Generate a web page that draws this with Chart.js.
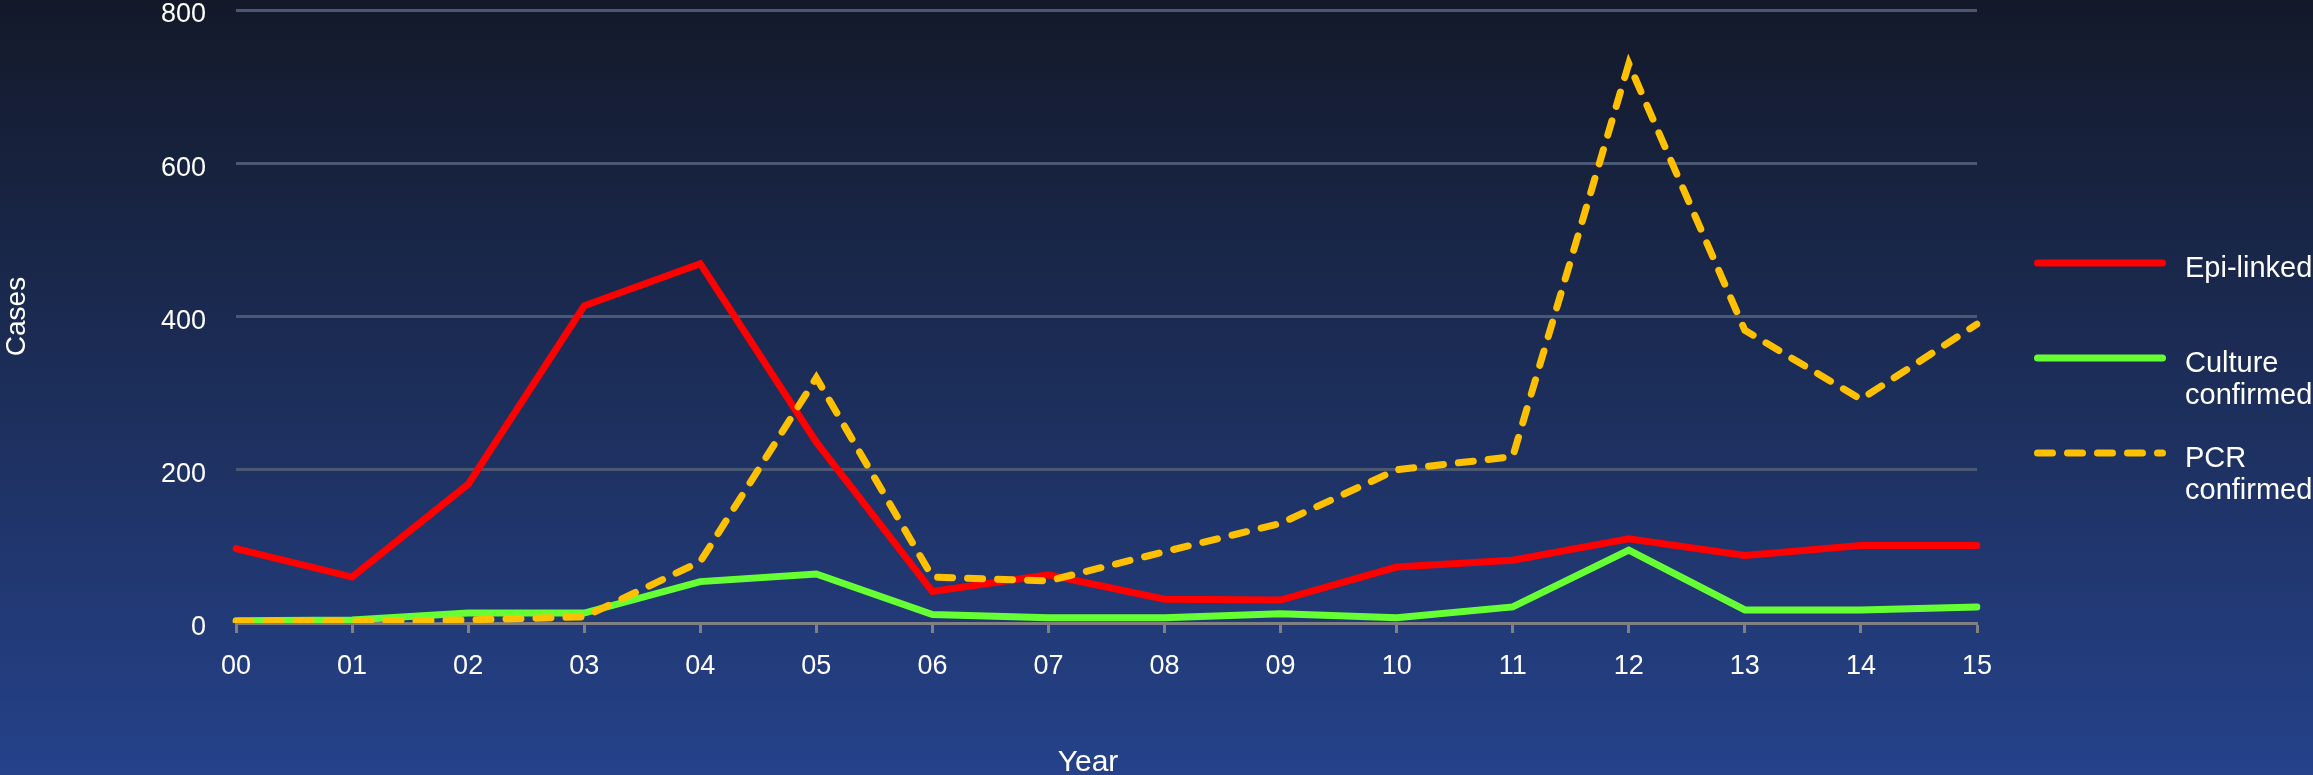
<!DOCTYPE html>
<html>
<head>
<meta charset="utf-8">
<title>Cases by year</title>
<script src="https://cdn.jsdelivr.net/npm/chart.js@4.4.1/dist/chart.umd.min.js"></script>
<style>
  html, body { margin: 0; padding: 0; background: #1c2d5a; overflow: hidden; }
  canvas { display: block; }
</style>
</head>
<body>
<canvas id="casesChart" width="2313" height="775"></canvas>
<script>
// values
const years = ['00', '01', '02', '03', '04', '05', '06', '07', '08', '09', '10', '11', '12', '13', '14', '15'];
const epiLinked = [97, 60, 181, 414, 469, 236, 41, 63, 31, 30, 73, 82, 110, 88, 101, 101];
const cultureConfirmed = [3, 4, 13, 13, 54, 64, 11, 7, 7, 12, 7, 21, 95, 17, 17, 21];
const pcrConfirmed = [2, 2, 4, 8, 80, 320, 60, 55, 93, 130, 200, 217, 730, 382, 292, 390];
const yTicks = [0, 200, 400, 600, 800];
const seriesNames = ['Epi-linked', 'Culture\nconfirmed', 'PCR\nconfirmed'];
const xTitle = 'Year';
const yTitle = 'Cases';

const FONT = '"Liberation Sans", Arial, sans-serif';

// gradient backdrop over the whole canvas
const backdrop = {
  id: 'backdrop',
  beforeDraw(chart) {
    const { ctx, width, height } = chart;
    const g = ctx.createLinearGradient(0, 0, 0, height);
    g.addColorStop(0, '#131929');
    g.addColorStop(1, '#25428a');
    ctx.save();
    ctx.fillStyle = g;
    ctx.fillRect(0, 0, width, height);
    ctx.restore();
  }
};

// legend on the right side + x axis title
const sideLegend = {
  id: 'sideLegend',
  afterDraw(chart) {
    const ctx = chart.ctx;
    ctx.save();
    chart.data.datasets.forEach((ds, i) => {
      const y = 263 + i * 95;
      ctx.beginPath();
      ctx.lineWidth = ds.borderWidth;
      ctx.strokeStyle = ds.borderColor;
      ctx.lineCap = 'round';
      ctx.setLineDash(ds.borderDash || []);
      ctx.moveTo(2037.5, y);
      ctx.lineTo(2162.5, y);
      ctx.stroke();
      ctx.setLineDash([]);

      ctx.fillStyle = '#ffffff';
      ctx.font = '29px ' + FONT;
      ctx.textAlign = 'left';
      ctx.textBaseline = 'alphabetic';
      ds.label.split('\n').forEach((line, j) => {
        ctx.fillText(line, 2185, y + 13.5 + j * 32);
      });
    });

    ctx.font = '30px ' + FONT;
    ctx.fillStyle = '#ffffff';
    ctx.textAlign = 'center';
    ctx.textBaseline = 'alphabetic';
    ctx.fillText(xTitle, 1088, 771);
    ctx.restore();
  }
};

const ctx = document.getElementById('casesChart').getContext('2d');
new Chart(ctx, {
  type: 'line',
  data: {
    labels: years,
    datasets: [
      {
        label: seriesNames[0],
        data: epiLinked,
        borderColor: '#ff0000',
        borderWidth: 7,
        order: 2
      },
      {
        label: seriesNames[1],
        data: cultureConfirmed,
        borderColor: '#66ff33',
        borderWidth: 7,
        order: 1
      },
      {
        label: seriesNames[2],
        data: pcrConfirmed,
        borderColor: '#ffc000',
        borderWidth: 7,
        borderDash: [15, 15],
        order: 0
      }
    ]
  },
  options: {
    responsive: false,
    animation: false,
    layout: { padding: { top: 10, right: 336, bottom: 0, left: 0 } },
    elements: {
      point: { radius: 0, hoverRadius: 0 },
      line: { tension: 0, fill: false, borderCapStyle: 'round', borderJoinStyle: 'miter' }
    },
    plugins: {
      legend: { display: false },
      tooltip: { enabled: false }
    },
    scales: {
      x: {
        offset: false,
        grid: {
          drawOnChartArea: false,
          drawTicks: true,
          tickLength: 10,
          tickColor: '#808080',
          tickWidth: 3
        },
        border: { display: true, color: '#808080', width: 3 },
        ticks: {
          color: '#ffffff',
          font: { family: FONT, size: 27 },
          padding: 17,
          maxRotation: 0,
          autoSkip: false
        },
        afterFit(scale) {
          scale.height = 152;
          scale.paddingLeft = 0;
          scale.paddingRight = 0;
        }
      },
      y: {
        min: 0,
        max: 800,
        afterBuildTicks(scale) {
          scale.ticks = yTicks.map(v => ({ value: v }));
        },
        grid: {
          color: ctx => (ctx.tick && ctx.tick.value === 0 ? 'rgba(0,0,0,0)' : '#4a5874'),
          lineWidth: 3,
          drawTicks: false
        },
        border: { display: false },
        ticks: {
          color: '#ffffff',
          font: { family: FONT, size: 27 },
          padding: 30,
          labelOffset: 5
        },
        title: {
          display: true,
          text: yTitle,
          color: '#ffffff',
          font: { family: FONT, size: 28 },
          padding: 0
        },
        afterFit(scale) {
          scale.width = 236;
          scale.paddingTop = 0;
          scale.paddingBottom = 0;
        }
      }
    }
  },
  plugins: [backdrop, sideLegend]
});
</script>
</body>
</html>
